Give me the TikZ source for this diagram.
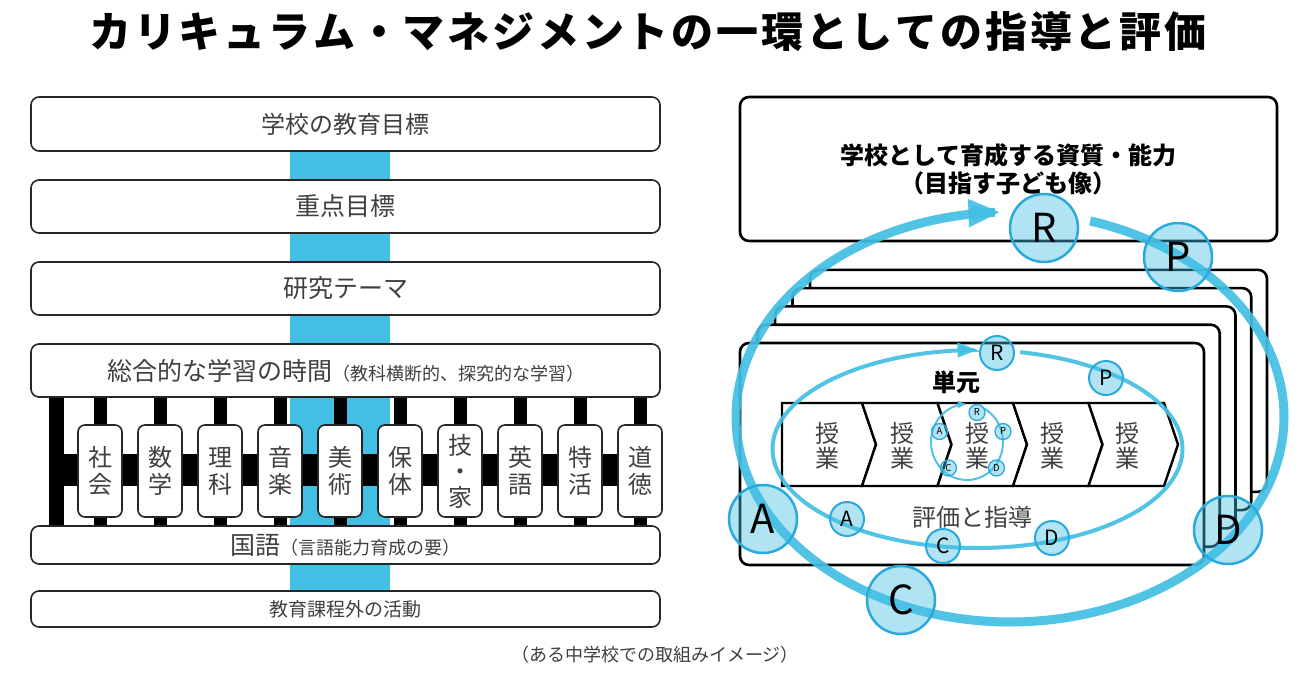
\documentclass[tikz,border=0pt]{standalone}
\usepackage{fontspec}
\setmainfont{Noto Sans CJK JP}
\usetikzlibrary{arrows.meta}
\definecolor{pblue}{HTML}{43BFE4}
\definecolor{cblue}{HTML}{2AA9DC}
\definecolor{tgray}{HTML}{404040}
\begin{document}
\begin{tikzpicture}[x=1pt,y=-1pt,
  lbox/.style={draw=black!85, line width=1.6pt, rounded corners=8pt, fill=white, minimum width=629pt, text=tgray, inner sep=0pt},
  subj/.style={draw=black!85, line width=1.6pt, rounded corners=7pt, fill=white, minimum width=44pt, minimum height=92pt, text=tgray, align=center, inner sep=0pt, font=\fontsize{24}{27}\selectfont},
  rbox/.style={draw=black, line width=2.6pt, rounded corners=9pt, fill=white},
  chev/.style={draw=black, line width=2.4pt, fill=white, line join=miter},
  lesson/.style={text=tgray, align=center, inner sep=0pt, font=\fontsize{24}{25}\selectfont},
  lett/.style={circle, draw=cblue, fill=pblue, fill opacity=0.42, text opacity=1, inner sep=0pt},
  bigc/.style={lett, minimum size=68pt, line width=2.5pt, font=\fontsize{40}{40}\selectfont},
  midc/.style={lett, minimum size=34pt, line width=2pt, font=\fontsize{21}{21}\selectfont},
  smlc/.style={lett, minimum size=16pt, line width=1.3pt, font=\fontsize{9.5}{9.5}\selectfont},
  cyc/.style={draw=pblue, opacity=0.92}
]
\fill[white] (0,0) rectangle (1306,677);
\useasboundingbox (0,0) rectangle (1306,677);

% title
\node[font=\bfseries\fontsize{42}{42}\selectfont] (title) at (648,31)
  {\foreach \c in {カ,リ,キ,ュ,ラ,ム,・,マ,ネ,ジ,メ,ン,ト,の,一,環,と,し,て,の,指,導,と,評,価}{\makebox[44.8pt]{\c}}};

% ---------- left column ----------
\fill[pblue] (290,151) rectangle (390,591);
\fill[black] (49,397) rectangle (64,526);
\fill[black] (64,454) rectangle (640,486);
\foreach \i in {0,...,9}{
  \fill[black] ({100+60*\i-6.5},397) rectangle ({100+60*\i+6.5},526);
}

\node[lbox, minimum height=54pt] (goal) at (345.5,124) {\fontsize{24}{28}\selectfont 学校の教育目標};
\node[lbox, minimum height=53pt] (focus) at (345.5,206.5) {\fontsize{25}{28}\selectfont 重点目標};
\node[lbox, minimum height=53pt] (theme) at (345.5,288.5) {\fontsize{25}{28}\selectfont 研究テーマ};
\node[lbox, minimum height=53pt] (sogo) at (345.5,370.5) {\fontsize{25}{28}\selectfont 総合的な学習の時間\fontsize{18}{20}\selectfont （教科横断的、探究的な学習）};
\node[lbox, minimum height=38pt] (kokugo) at (345.5,545) {\fontsize{25}{28}\selectfont 国語\fontsize{18}{20}\selectfont （言語能力育成の要）};
\node[lbox, minimum height=36pt] (extra) at (345.5,609) {\fontsize{19}{22}\selectfont 教育課程外の活動};

\node[subj] (s0) at (100,471) {社\\会};
\node[subj] (s1) at (160,471) {数\\学};
\node[subj] (s2) at (220,471) {理\\科};
\node[subj] (s3) at (280,471) {音\\楽};
\node[subj] (s4) at (340,471) {美\\術};
\node[subj] (s5) at (400,471) {保\\体};
\node[subj, font=\fontsize{24}{26}\selectfont] (s6) at (460,471) {技\\・\\家};
\node[subj] (s7) at (520,471) {英\\語};
\node[subj] (s8) at (580,471) {特\\活};
\node[subj] (s9) at (640,471) {道\\徳};

\node[text=tgray, font=\fontsize{18}{18}\selectfont] (note) at (655,655) {（ある中学校での取組みイメージ）};

% ---------- right column ----------
\node[rbox, minimum width=537pt, minimum height=144pt, align=center, font=\bfseries\fontsize{24}{28}\selectfont] (aim) at (1008.5,169)
  {学校として育成する資質・能力\\（目指す子ども像）};

\foreach \k in {4,3,2,1}{
  \draw[rbox] ({740+17.5*\k},{343-18.3*\k}) rectangle ({1204+15.75*\k},{565-18.3*\k});
}
\node[rbox, minimum width=464pt, minimum height=222pt] (unit) at (972,454) {};

\node[font=\bfseries\fontsize{24}{24}\selectfont] (tangen) at (956,382) {単元};

% chevrons
\draw[chev] (782,403) -- (862,403) -- (876,444.5) -- (862,486) -- (782,486) -- cycle;
\foreach \k in {0,1,2,3}{
  \draw[chev] ({862+75.5*\k},403) -- ({937.5+75.5*\k},403) -- ({951.5+75.5*\k},444.5)
    -- ({937.5+75.5*\k},486) -- ({862+75.5*\k},486) -- ({876+75.5*\k},444.5) -- cycle;
}
\node[lesson] (l1) at (827,445.5) {授\\業};
\node[lesson] (l2) at (902,445.5) {授\\業};
\node[lesson] (l3) at (977,445.5) {授\\業};
\node[lesson] (l4) at (1052,445.5) {授\\業};
\node[lesson] (l5) at (1127,445.5) {授\\業};

\node[text=tgray, font=\fontsize{24}{24}\selectfont] (hyoka) at (972,517) {評価と指導};

% cycles
\draw[cyc, line width=2pt, -{Triangle[length=8pt,width=7pt]}]
  plot[domain=298:628, samples=120, smooth] ({967+36*cos(\x)}, {442+38*sin(\x)});
\draw[cyc, line width=4pt, -{Triangle[length=20pt,width=14pt]}]
  plot[domain=282:630, samples=200, smooth] ({977.5+205*cos(\x)}, {449+99*sin(\x)});
\draw[cyc, line width=9pt, -{Triangle[length=32pt,width=26pt]}]
  plot[domain=287:628, samples=240, smooth] ({1010+274*cos(\x)}, {417+205*sin(\x)});

% small cycle letters
\node[smlc] (sR) at (977,412.5) {R};
\node[smlc] (sP) at (1003,431.5) {P};
\node[smlc] (sD) at (996.5,468) {D};
\node[smlc] (sC) at (948.5,468) {C};
\node[smlc] (sA) at (939.5,431.5) {A};
% unit cycle letters
\node[midc] (mR) at (997,353) {R};
\node[midc] (mP) at (1106,378) {P};
\node[midc] (mD) at (1052,538) {D};
\node[midc] (mC) at (943,546) {C};
\node[midc] (mA) at (847,519) {A};
% school cycle letters
\node[bigc] (bR) at (1044,228) {R};
\node[bigc] (bP) at (1178,257) {P};
\node[bigc] (bD) at (1228,530) {D};
\node[bigc] (bC) at (901,600) {C};
\node[bigc] (bA) at (763,519) {A};
\end{tikzpicture}
\end{document}
